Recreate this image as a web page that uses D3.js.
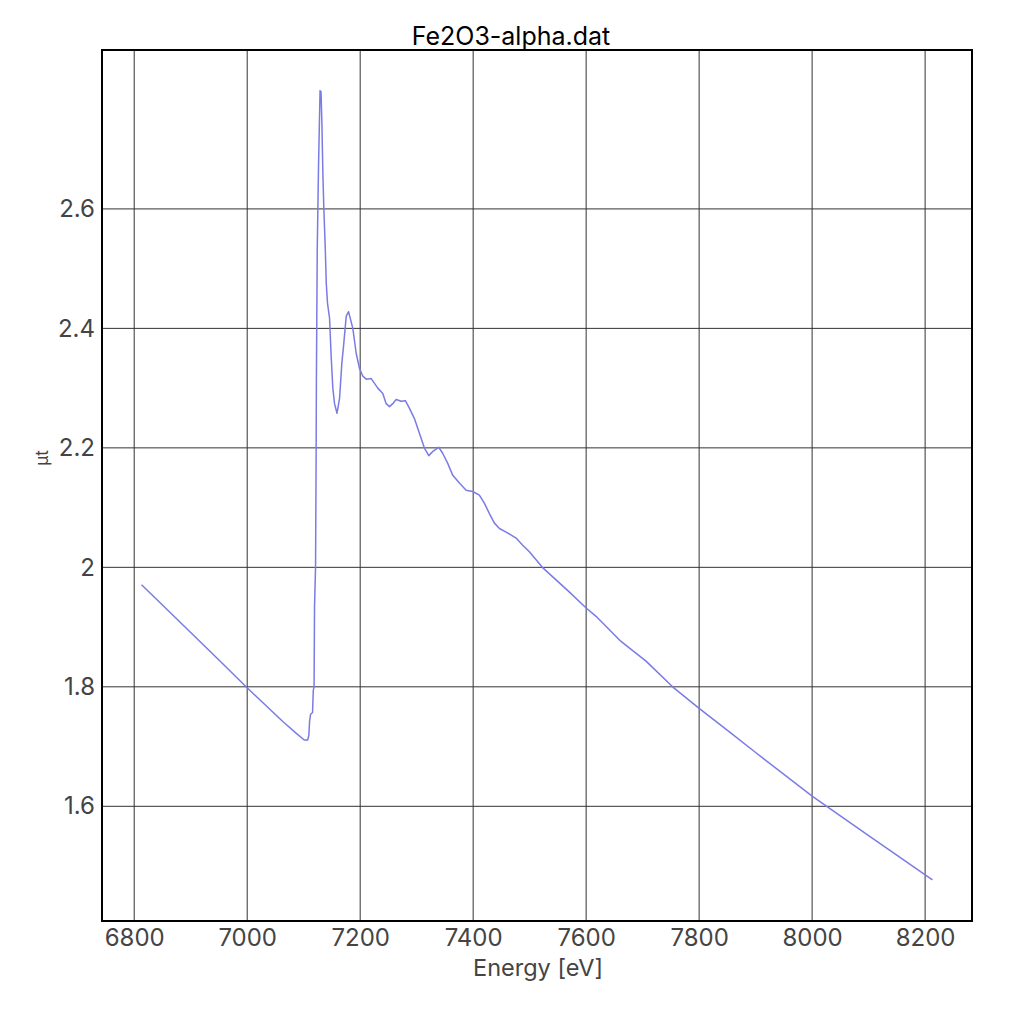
<!DOCTYPE html>
<html>
<head>
<meta charset="utf-8">
<script src="https://cdn.jsdelivr.net/npm/d3@7"></script>
<style>
  body { margin: 0; background: #fff; }
  .title { font-family: Inter, sans-serif; font-size: 25px; fill: #000; }
  .tick text { font-family: Inter, sans-serif; font-size: 24px; fill: #444; }
  .xLabel { font-family: Inter, sans-serif; font-size: 23.5px; fill: #444; }
  .yLabel { font-family: Inter, sans-serif; font-size: 17px; fill: #444; }
</style>
</head>
<body>
<svg width="1024" height="1024"></svg>
<script>
// energy [eV] and mu*t
const energy = [
  6813, 6850, 6900, 6950, 6998, 7063, 7087, 7101, 7107,
  7109.2, 7110.4, 7112.2, 7115.7, 7117, 7118.4, 7119.2, 7121, 7122, 7122.5,
  7124, 7126.3, 7129, 7130.7, 7132.2, 7134, 7135.7, 7138.2, 7140, 7142.2,
  7145.8, 7148.8, 7151.6, 7154.6, 7159, 7163.5, 7167.5, 7171, 7175.3, 7179.4,
  7187, 7193, 7198.8, 7204.7, 7210.7, 7219.5, 7225.4, 7231.2, 7240, 7246,
  7252, 7257.7, 7263.7, 7272.6, 7280, 7287.3, 7296, 7305, 7314, 7321.4,
  7328.5, 7339, 7346, 7355, 7363.9, 7375.7, 7387.5, 7399.2, 7411, 7420,
  7428.8, 7437.6, 7446.5, 7458.3, 7476, 7487.7, 7499.5, 7522.5, 7570, 7600,
  7617.5, 7661.7, 7706, 7753, 7800, 7853, 7900, 8000, 8100, 8213
];
const mut = [
  1.971, 1.937, 1.891, 1.845, 1.800, 1.742, 1.722, 1.711, 1.711,
  1.719, 1.742, 1.754, 1.757, 1.794, 1.800, 1.934, 2.000, 2.180, 2.311,
  2.531, 2.673, 2.798, 2.796, 2.745, 2.658, 2.600, 2.534, 2.475, 2.442,
  2.417, 2.350, 2.300, 2.274, 2.258, 2.283, 2.341, 2.375, 2.420, 2.428,
  2.400, 2.358, 2.333, 2.320, 2.315, 2.316, 2.308, 2.300, 2.291, 2.274,
  2.269, 2.274, 2.281, 2.278, 2.279, 2.266, 2.249, 2.224, 2.199, 2.187,
  2.194, 2.201, 2.191, 2.174, 2.154, 2.141, 2.129, 2.127, 2.121, 2.107,
  2.090, 2.074, 2.065, 2.059, 2.049, 2.037, 2.026, 2.000, 1.959, 1.932,
  1.918, 1.876, 1.843, 1.800, 1.764, 1.725, 1.690, 1.617, 1.551, 1.477
];
const xTicks = [6800, 7000, 7200, 7400, 7600, 7800, 8000, 8200];
const yTicks = [1.6, 1.8, 2.0, 2.2, 2.4, 2.6];

const points = energy.map((e, i) => ({ e, v: mut[i] }));

const svg = d3.select('svg');
const plotLeft = 102, plotRight = 972, plotTop = 50, plotBottom = 921;

const xScale = d3.scaleLinear().domain([6743, 8283]).range([plotLeft, plotRight]);
const yScale = d3.scaleLinear().domain([1.408, 2.866]).range([plotBottom, plotTop]);

// grid
svg.append('g')
  .selectAll('line')
  .data(xTicks)
  .join('line')
    .attr('x1', d => xScale(d)).attr('x2', d => xScale(d))
    .attr('y1', plotTop).attr('y2', plotBottom)
    .attr('stroke', '#333').attr('stroke-width', 1);

svg.append('g')
  .selectAll('line')
  .data(yTicks)
  .join('line')
    .attr('x1', plotLeft).attr('x2', plotRight)
    .attr('y1', d => yScale(d)).attr('y2', d => yScale(d))
    .attr('stroke', '#333').attr('stroke-width', 1);

// axes (labels only, the grid does the ticks)
const xAxis = d3.axisBottom(xScale).tickValues(xTicks).tickSize(0).tickPadding(8).tickFormat(d3.format('d'));
const yAxis = d3.axisLeft(yScale).tickValues(yTicks).tickSize(0).tickPadding(7).tickFormat(d => String(+d.toFixed(1)));

svg.append('g')
  .attr('transform', `translate(0, ${plotBottom})`)
  .call(xAxis)
  .call(g => g.select('.domain').remove());

svg.append('g')
  .attr('transform', `translate(${plotLeft}, 0)`)
  .call(yAxis)
  .call(g => g.select('.domain').remove());

// curve
const line = d3.line()
  .x(d => xScale(d.e))
  .y(d => yScale(d.v));

svg.append('path')
  .datum(points)
  .attr('d', line)
  .attr('fill', 'none')
  .attr('stroke', '#7b7be6')
  .attr('stroke-width', 1.5)
  .attr('stroke-linejoin', 'round');

// frame
svg.append('rect')
  .attr('x', plotLeft).attr('y', plotTop)
  .attr('width', plotRight - plotLeft).attr('height', plotBottom - plotTop)
  .attr('fill', 'none')
  .attr('stroke', '#000')
  .attr('stroke-width', 2);

svg.append('text')
  .classed('title', true)
  .attr('x', 511)
  .attr('y', 45)
  .attr('text-anchor', 'middle')
  .text('Fe2O3-alpha.dat');

svg.append('text')
  .classed('xLabel', true)
  .attr('x', 538)
  .attr('y', 976)
  .attr('text-anchor', 'middle')
  .text('Energy [eV]');

svg.append('text')
  .classed('yLabel', true)
  .attr('transform', 'translate(48, 458) rotate(-90)')
  .attr('text-anchor', 'middle')
  .text('µt');
</script>
</body>
</html>
